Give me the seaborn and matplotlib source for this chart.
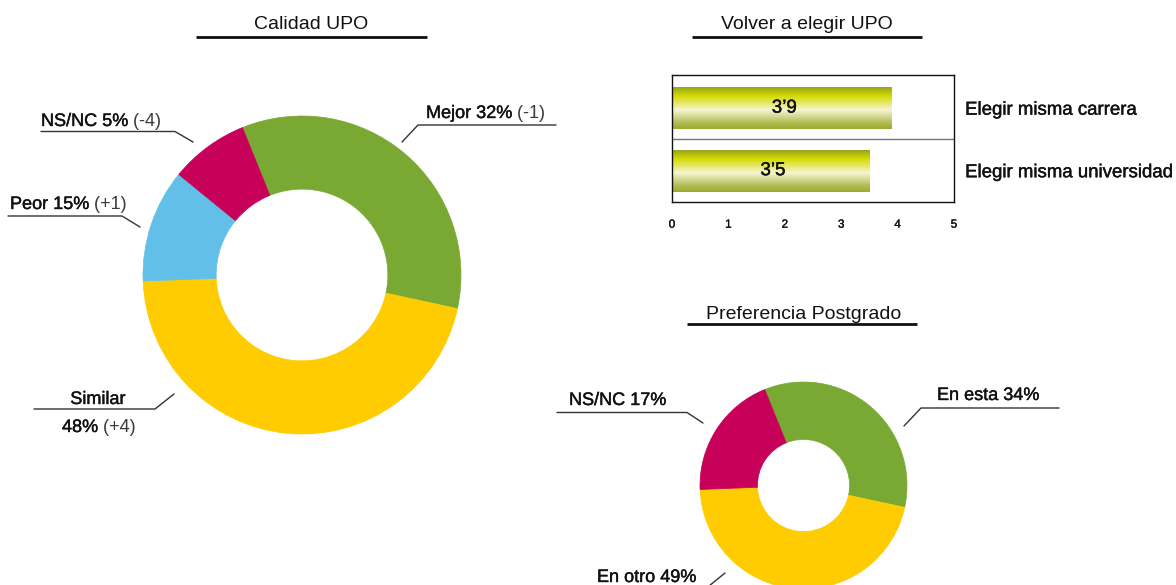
import numpy as np
import matplotlib
matplotlib.use("Agg")
import matplotlib.pyplot as plt
import matplotlib.patheffects as pe
from matplotlib.colors import LinearSegmentedColormap
import pandas as pd
import seaborn as sns

# --- data -------------------------------------------------------------
# Calidad UPO (slices drawn clockwise from the top-left)
calidad_cats = ["Mejor", "Similar", "Peor", "NS/NC"]
calidad_pct = [32, 48, 15, 5]            # values printed in the labels
calidad_diff = ["-1", "+4", "+1", "-4"]
calidad_shares = [34.5, 46, 11.5, 8]     # slice sizes as drawn
calidad_colors = ["#79a933", "#fecc00", "#62c0e8", "#c7005a"]

# Preferencia Postgrado
pref_cats = ["En esta", "En otro", "NS/NC"]
pref_pct = [34, 49, 17]
pref_shares = [34.5, 46, 19.5]
pref_colors = ["#79a933", "#fecc00", "#c7005a"]

# Volver a elegir UPO (scale 0-5)
volver_items = ["Elegir misma carrera", "Elegir misma universidad"]
volver_scores = [3.9, 3.5]

W, H = 1176, 585

sns.set_style("white")
plt.rcParams["font.family"] = ["Liberation Sans", "DejaVu Sans"]

fig = plt.figure(figsize=(W / 100, H / 100), dpi=100)

# thin stroke to mimic the medium weight of the original
medium = [pe.withStroke(linewidth=0.3, foreground="#111111")]


def px_axes(x0, y0, x1, y1, **kw):
    # axes from pixel box (top-left origin)
    return fig.add_axes([x0 / W, 1 - y1 / H, (x1 - x0) / W, (y1 - y0) / H], **kw)


def donut(ax, shares, colors, width):
    wedges, _ = ax.pie(shares, colors=colors, startangle=112, counterclock=False,
                       wedgeprops=dict(width=width, linewidth=0.5))
    for w in wedges:
        w.set_edgecolor(w.get_facecolor())
    ax.set_xlim(-1, 1)
    ax.set_ylim(-1, 1)
    ax.set_aspect("equal")
    ax.axis("off")


# big donut
ax1 = px_axes(143, 116, 461, 434)
donut(ax1, calidad_shares, calidad_colors, 0.46)

# small donut
ax2 = px_axes(700, 382, 907, 589)
donut(ax2, pref_shares, pref_colors, 0.555)

# --- bar chart --------------------------------------------------------
bar_df = pd.DataFrame({"item": volver_items, "score": volver_scores})
axb = px_axes(672, 75, 954, 202)
sns.barplot(data=bar_df, x="score", y="item", orient="h", color="#c8d200",
            width=0.67, ax=axb)

grad_cmap = LinearSegmentedColormap.from_list(
    "olive", [(0, "#98a41c"), (0.2, "#d3da00"), (0.55, "#f7f5d2"),
              (0.85, "#b2bd55"), (1, "#9cab30")])
grad = np.linspace(0, 1, 64).reshape(-1, 1)
for p, v in zip(axb.patches, volver_scores):
    x0, y0 = p.get_x(), p.get_y()
    w, h = p.get_width(), p.get_height()
    im = axb.imshow(grad, cmap=grad_cmap, aspect="auto", origin="upper",
                    extent=(x0, x0 + w, y0 + h, y0), zorder=2)
    im.set_clip_path(p)
    axb.text(x0 + w / 2 + 0.04, y0 + h / 2, f"{v:.1f}".replace(".", "\u2019"),
             ha="center", va="center", fontsize=13.5, color="#111", zorder=3,
             path_effects=medium)

axb.axhline(0.5, color="#777777", lw=1)
axb.set_xlim(0, 5)
axb.set_ylim(1.5, -0.53)
axb.set_xticks(range(6))
axb.set_xlabel("")
axb.set_ylabel("")
axb.yaxis.tick_right()
axb.tick_params(axis="x", length=0, pad=12, labelsize=8.5, labelcolor="#111")
axb.tick_params(axis="y", length=0, pad=8, labelsize=13.4, labelcolor="#111")
for t in axb.get_yticklabels():
    t.set_path_effects(medium)
for t in axb.get_xticklabels():
    t.set_path_effects([pe.withStroke(linewidth=0.2, foreground="#111111")])
for s in axb.spines.values():
    s.set_visible(True)
    s.set_color("#111111")
    s.set_linewidth(1)

# --- titles, labels and leader lines (pixel overlay) -----------------
ov = fig.add_axes([0, 0, 1, 1], zorder=5)
ov.set_xlim(0, W)
ov.set_ylim(H, 0)
ov.axis("off")

titles = [("Calidad UPO", 311.5, 29, 196, 427, 37),
          ("Volver a elegir UPO", 807, 29, 692, 922, 37),
          ("Preferencia Postgrado", 803.5, 319, 687, 917, 324)]
for txt, tx, ty, lx0, lx1, ly in titles:
    ov.text(tx, ty, txt, ha="center", va="baseline", fontsize=14, color="#111")
    ov.plot([lx0, lx1], [ly, ly], color="#111", lw=2, solid_capstyle="butt")

lab_kw = dict(fontsize=13, color="#111", va="baseline", path_effects=medium)
par_kw = dict(fontsize=13, color="#3a3a3a", va="bottom", ha="left")


def label(x, y, main, extra=None):
    t = ov.text(x, y, main, ha="left", **lab_kw)
    if extra:
        ov.annotate(f" ({extra})", xy=(1, 0), xycoords=t, **par_kw)
    return t


def leader(pts):
    xs, ys = zip(*pts)
    ov.plot(xs, ys, color="#333", lw=1)


# Calidad UPO labels
label(426, 118, f"{calidad_cats[0]} {calidad_pct[0]}%", calidad_diff[0])
leader([(556, 125), (418, 125), (402, 142)])
label(41, 126, f"{calidad_cats[3]} {calidad_pct[3]}%", calidad_diff[3])
leader([(41, 131.5), (175, 131.5), (193, 142)])
label(10, 209, f"{calidad_cats[2]} {calidad_pct[2]}%", calidad_diff[2])
leader([(8, 216), (122, 216), (140, 227)])
ov.text(98, 404, calidad_cats[1], ha="center", **lab_kw)
label(62, 432, f"{calidad_pct[1]}%", calidad_diff[1])
leader([(34, 409), (155, 409), (174, 394)])

# Preferencia labels
label(569, 405, f"{pref_cats[2]} {pref_pct[2]}%")
leader([(557, 412.5), (687, 412.5), (703, 423)])
label(937, 400, f"{pref_cats[0]} {pref_pct[0]}%")
leader([(1059, 408), (921, 408), (904, 426)])
label(597, 582, f"{pref_cats[1]} {pref_pct[1]}%")
leader([(725, 573), (709, 586)])

fig.savefig("out.png", dpi=100)
